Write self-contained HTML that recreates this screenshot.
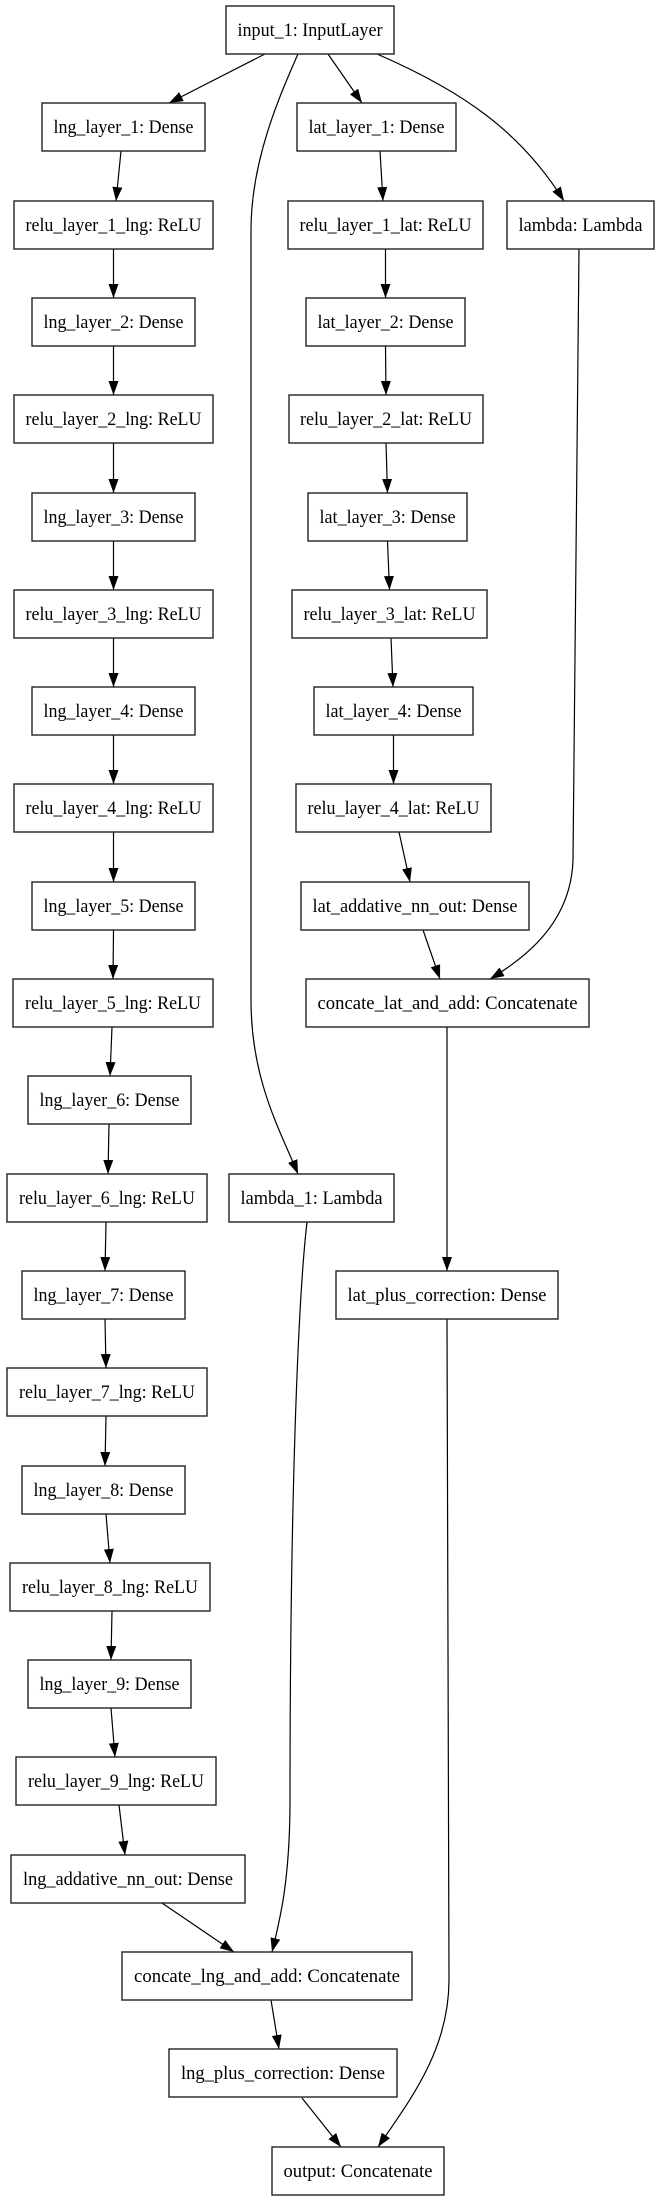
<!DOCTYPE html>
<html><head><meta charset="utf-8"><style>
html,body{margin:0;padding:0;background:#fff;}
svg{display:block;}
text{font-family:"Liberation Serif",serif;font-size:18.5px;fill:#000;}
rect{fill:#fff;stroke:#222;stroke-width:1.4;}
path.e{fill:none;stroke:#000;stroke-width:1.2;}
</style></head><body>
<svg width="659" height="2201" viewBox="0 0 659 2201" xmlns="http://www.w3.org/2000/svg">
<defs><marker id="a" markerUnits="userSpaceOnUse" markerWidth="14" markerHeight="11" refX="14" refY="5" orient="auto"><path d="M0,0 L14,5 L0,10 z" fill="#000"/></marker></defs>
<g marker-end="url(#a)">
<path class="e" d="M265,54 L169,103"/>
<path class="e" d="M328,54 L362,103"/>
<path class="e" d="M298,54 C280,95 251,160 251,230 L251,1000 C251,1080 280,1130 298,1174"/>
<path class="e" d="M377,54 C460,90 520,130 564,201"/>
<path class="e" d="M579,249 L573,860 C571,920 530,955 490,979"/>
<path class="e" d="M307,1222 C298,1300 290,1500 290,1800 C290,1880 280,1920 272,1952"/>
<path class="e" d="M447,1319 L449,1980 C449,2050 410,2100 378,2147"/>
<path class="e" d="M162,1903 L234,1952"/>
<path class="e" d="M271,2000 L279,2049"/>
<path class="e" d="M302,2098 L341,2147"/>
<path class="e" d="M447,1027 L447,1271"/>
<path class="e" d="M423,930 L440,979"/>
<path class="e" d="M399,832 L410,882"/>
<!-- left chain -->
<path class="e" d="M121,151 L116,201"/>
<path class="e" d="M113.5,249 L113.5,298"/>
<path class="e" d="M113.5,346 L113.5,395"/>
<path class="e" d="M113.5,443 L113.5,493"/>
<path class="e" d="M113.5,541 L113.5,590"/>
<path class="e" d="M113.5,638 L113.5,687"/>
<path class="e" d="M113.5,735 L113.5,784"/>
<path class="e" d="M113.5,832 L113.5,882"/>
<path class="e" d="M113.5,930 L113,979"/>
<path class="e" d="M112,1027 L110,1076"/>
<path class="e" d="M109,1124 L108,1174"/>
<path class="e" d="M106,1222 L105,1271"/>
<path class="e" d="M105,1319 L106,1368"/>
<path class="e" d="M106,1416 L105,1466"/>
<path class="e" d="M106,1514 L110,1563"/>
<path class="e" d="M112,1611 L111,1660"/>
<path class="e" d="M111,1708 L115,1757"/>
<path class="e" d="M119,1805 L125,1855"/>
<!-- right chain -->
<path class="e" d="M380,151 L383,201"/>
<path class="e" d="M385.5,249 L385.5,298"/>
<path class="e" d="M385.5,346 L386,395"/>
<path class="e" d="M386,443 L387.5,493"/>
<path class="e" d="M387.5,541 L389.5,590"/>
<path class="e" d="M391,638 L393,687"/>
<path class="e" d="M393.5,735 L393.5,784"/>
</g>
<g>
<rect x="226" y="6" width="168" height="48"/><text x="310" y="36" text-anchor="middle" textLength="145" lengthAdjust="spacingAndGlyphs">input_1: InputLayer</text>
<rect x="42" y="103" width="163" height="48"/><text x="123.5" y="133" text-anchor="middle" textLength="140" lengthAdjust="spacingAndGlyphs">lng_layer_1: Dense</text>
<rect x="297" y="103" width="159" height="48"/><text x="376.5" y="133" text-anchor="middle" textLength="136" lengthAdjust="spacingAndGlyphs">lat_layer_1: Dense</text>
<rect x="14" y="201" width="199" height="48"/><text x="113.5" y="231" text-anchor="middle" textLength="176" lengthAdjust="spacingAndGlyphs">relu_layer_1_lng: ReLU</text>
<rect x="288" y="201" width="195" height="48"/><text x="385.5" y="231" text-anchor="middle" textLength="172" lengthAdjust="spacingAndGlyphs">relu_layer_1_lat: ReLU</text>
<rect x="507" y="201" width="147" height="48"/><text x="580.5" y="231" text-anchor="middle" textLength="124" lengthAdjust="spacingAndGlyphs">lambda: Lambda</text>
<rect x="32" y="298" width="163" height="48"/><text x="113.5" y="328" text-anchor="middle" textLength="140" lengthAdjust="spacingAndGlyphs">lng_layer_2: Dense</text>
<rect x="306" y="298" width="159" height="48"/><text x="385.5" y="328" text-anchor="middle" textLength="136" lengthAdjust="spacingAndGlyphs">lat_layer_2: Dense</text>
<rect x="14" y="395" width="199" height="48"/><text x="113.5" y="425" text-anchor="middle" textLength="176" lengthAdjust="spacingAndGlyphs">relu_layer_2_lng: ReLU</text>
<rect x="289" y="395" width="194" height="48"/><text x="386" y="425" text-anchor="middle" textLength="172" lengthAdjust="spacingAndGlyphs">relu_layer_2_lat: ReLU</text>
<rect x="32" y="493" width="163" height="48"/><text x="113.5" y="523" text-anchor="middle" textLength="140" lengthAdjust="spacingAndGlyphs">lng_layer_3: Dense</text>
<rect x="308" y="493" width="159" height="48"/><text x="387.5" y="523" text-anchor="middle" textLength="136" lengthAdjust="spacingAndGlyphs">lat_layer_3: Dense</text>
<rect x="14" y="590" width="199" height="48"/><text x="113.5" y="620" text-anchor="middle" textLength="176" lengthAdjust="spacingAndGlyphs">relu_layer_3_lng: ReLU</text>
<rect x="292" y="590" width="195" height="48"/><text x="389.5" y="620" text-anchor="middle" textLength="172" lengthAdjust="spacingAndGlyphs">relu_layer_3_lat: ReLU</text>
<rect x="32" y="687" width="163" height="48"/><text x="113.5" y="717" text-anchor="middle" textLength="140" lengthAdjust="spacingAndGlyphs">lng_layer_4: Dense</text>
<rect x="314" y="687" width="159" height="48"/><text x="393.5" y="717" text-anchor="middle" textLength="136" lengthAdjust="spacingAndGlyphs">lat_layer_4: Dense</text>
<rect x="14" y="784" width="199" height="48"/><text x="113.5" y="814" text-anchor="middle" textLength="176" lengthAdjust="spacingAndGlyphs">relu_layer_4_lng: ReLU</text>
<rect x="296" y="784" width="195" height="48"/><text x="393.5" y="814" text-anchor="middle" textLength="172" lengthAdjust="spacingAndGlyphs">relu_layer_4_lat: ReLU</text>
<rect x="32" y="882" width="163" height="48"/><text x="113.5" y="912" text-anchor="middle" textLength="140" lengthAdjust="spacingAndGlyphs">lng_layer_5: Dense</text>
<rect x="301" y="882" width="228" height="48"/><text x="415" y="912" text-anchor="middle" textLength="205" lengthAdjust="spacingAndGlyphs">lat_addative_nn_out: Dense</text>
<rect x="13" y="979" width="200" height="48"/><text x="113" y="1009" text-anchor="middle" textLength="176" lengthAdjust="spacingAndGlyphs">relu_layer_5_lng: ReLU</text>
<rect x="306" y="979" width="283" height="48"/><text x="447.5" y="1009" text-anchor="middle" textLength="260" lengthAdjust="spacingAndGlyphs">concate_lat_and_add: Concatenate</text>
<rect x="28" y="1076" width="163" height="48"/><text x="109.5" y="1106" text-anchor="middle" textLength="140" lengthAdjust="spacingAndGlyphs">lng_layer_6: Dense</text>
<rect x="7" y="1174" width="200" height="48"/><text x="107" y="1204" text-anchor="middle" textLength="176" lengthAdjust="spacingAndGlyphs">relu_layer_6_lng: ReLU</text>
<rect x="229" y="1174" width="165" height="48"/><text x="311.5" y="1204" text-anchor="middle" textLength="142" lengthAdjust="spacingAndGlyphs">lambda_1: Lambda</text>
<rect x="22" y="1271" width="163" height="48"/><text x="103.5" y="1301" text-anchor="middle" textLength="140" lengthAdjust="spacingAndGlyphs">lng_layer_7: Dense</text>
<rect x="336" y="1271" width="222" height="48"/><text x="447" y="1301" text-anchor="middle" textLength="199" lengthAdjust="spacingAndGlyphs">lat_plus_correction: Dense</text>
<rect x="7" y="1368" width="200" height="48"/><text x="107" y="1398" text-anchor="middle" textLength="176" lengthAdjust="spacingAndGlyphs">relu_layer_7_lng: ReLU</text>
<rect x="22" y="1466" width="163" height="48"/><text x="103.5" y="1496" text-anchor="middle" textLength="140" lengthAdjust="spacingAndGlyphs">lng_layer_8: Dense</text>
<rect x="10" y="1563" width="200" height="48"/><text x="110" y="1593" text-anchor="middle" textLength="176" lengthAdjust="spacingAndGlyphs">relu_layer_8_lng: ReLU</text>
<rect x="28" y="1660" width="163" height="48"/><text x="109.5" y="1690" text-anchor="middle" textLength="140" lengthAdjust="spacingAndGlyphs">lng_layer_9: Dense</text>
<rect x="16" y="1757" width="200" height="48"/><text x="116" y="1787" text-anchor="middle" textLength="176" lengthAdjust="spacingAndGlyphs">relu_layer_9_lng: ReLU</text>
<rect x="11" y="1855" width="234" height="48"/><text x="128" y="1885" text-anchor="middle" textLength="210" lengthAdjust="spacingAndGlyphs">lng_addative_nn_out: Dense</text>
<rect x="122" y="1952" width="290" height="48"/><text x="267" y="1982" text-anchor="middle" textLength="266" lengthAdjust="spacingAndGlyphs">concate_lng_and_add: Concatenate</text>
<rect x="169" y="2049" width="228" height="48"/><text x="283" y="2079" text-anchor="middle" textLength="204" lengthAdjust="spacingAndGlyphs">lng_plus_correction: Dense</text>
<rect x="272" y="2147" width="172" height="48"/><text x="358" y="2177" text-anchor="middle" textLength="149" lengthAdjust="spacingAndGlyphs">output: Concatenate</text>
</g>
</svg>
</body></html>
